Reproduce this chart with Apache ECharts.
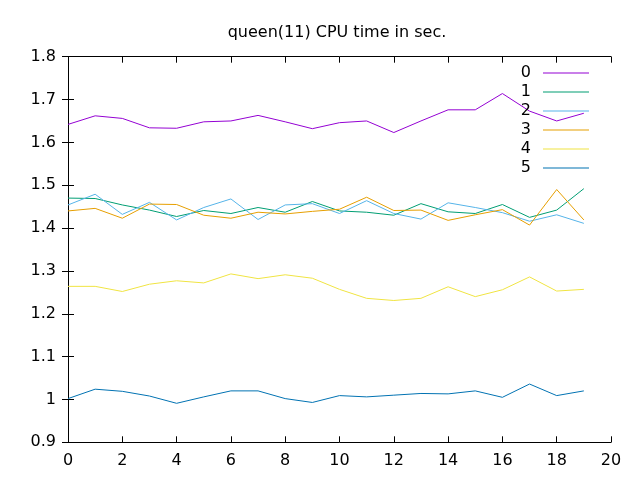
<!DOCTYPE html>
<html>
<head>
<meta charset="utf-8">
<script src="https://cdn.jsdelivr.net/npm/echarts@6/dist/echarts.min.js"></script>
<style>html,body{margin:0;padding:0;background:#fff}#c{width:640px;height:480px}</style>
</head>
<body>
<div id="c"></div>
<script>
const xValues = [0,1,2,3,4,5,6,7,8,9,10,11,12,13,14,15,16,17,18,19];
const seriesNames = ['0','1','2','3','4','5'];
const s0 = [1.642,1.662,1.656,1.634,1.633,1.648,1.650,1.663,1.648,1.632,1.646,1.650,1.623,1.650,1.676,1.676,1.714,1.673,1.650,1.668];
const s1 = [1.470,1.469,1.454,1.442,1.427,1.441,1.434,1.448,1.437,1.462,1.440,1.437,1.430,1.457,1.438,1.434,1.455,1.425,1.442,1.492];
const s2 = [1.454,1.479,1.432,1.460,1.419,1.448,1.468,1.420,1.454,1.457,1.434,1.464,1.434,1.421,1.459,1.448,1.436,1.416,1.431,1.411];
const s3 = [1.440,1.446,1.423,1.456,1.455,1.430,1.423,1.437,1.433,1.439,1.444,1.472,1.441,1.442,1.418,1.431,1.443,1.407,1.490,1.419];
const s4 = [1.264,1.264,1.252,1.269,1.277,1.272,1.293,1.282,1.291,1.283,1.257,1.236,1.231,1.236,1.263,1.240,1.256,1.286,1.253,1.257];
const s5 = [1.002,1.024,1.019,1.008,0.991,1.006,1.020,1.020,1.002,0.993,1.009,1.006,1.010,1.014,1.013,1.020,1.005,1.036,1.009,1.020];
const allValues = [s0,s1,s2,s3,s4,s5];
const colors = ['#9400d3','#009e73','#56b4e9','#e69f00','#f0e442','#0072b2'];
const yTicks = ['0.9','1','1.1','1.2','1.3','1.4','1.5','1.6','1.7','1.8'];

const font = 'DejaVu Sans';
const chart = echarts.init(document.getElementById('c'), null, {renderer:'canvas'});
const axisLine = {show:true, lineStyle:{color:'#000', width:1}};
const series = allValues.map((vals,i)=>({
  name: seriesNames[i],
  type: 'line',
  data: vals.map((v,j)=>[xValues[j], v]),
  showSymbol: false,
  symbol: 'none',
  lineStyle: {color: colors[i], width: 1},
  itemStyle: {color: colors[i]},
  animation: false
}));
chart.setOption({
  animation: false,
  title: {
    text: 'queen(11) CPU time in sec.',
    left: 332, top: 19, textAlign: 'center',
    textStyle: {fontFamily: font, fontSize: 16, fontWeight: 'normal', color: '#000', lineHeight: 18}
  },
  legend: {
    data: seriesNames,
    right: 51, top: 63.5,
    orient: 'vertical',
    align: 'right',
    icon: 'rect',
    itemWidth: 46, itemHeight: 1,
    itemGap: 0,
    textStyle: {fontFamily: font, fontSize: 16, color: '#000', lineHeight: 16, padding: [3, 7, 0, 0]},
    padding: 0
  },
  grid: {left: 68, right: 29, top: 56.7, bottom: 37.7, containLabel: false},
  xAxis: [{
    type: 'value', min: 0, max: 20, interval: 2,
    axisLine: axisLine,
    axisTick: {show: true, inside: true, length: 6, lineStyle: {color: '#000'}},
    axisLabel: {fontFamily: font, fontSize: 16, color: '#000', margin: 11},
    splitLine: {show: false}
  },{
    type: 'value', min: 0, max: 20, interval: 2, position: 'top',
    axisLine: axisLine,
    axisTick: {show: true, inside: true, length: 6, lineStyle: {color: '#000'}},
    axisLabel: {show: false},
    splitLine: {show: false}
  }],
  yAxis: [{
    type: 'value', min: 0.9, max: 1.8, interval: 0.1,
    axisLine: axisLine,
    axisTick: {show: true, inside: true, length: 6, lineStyle: {color: '#000'}},
    axisLabel: {fontFamily: font, fontSize: 16, color: '#000', margin: 12,
      formatter: (v)=> { const idx = Math.round((v-0.9)*10); return yTicks[idx] !== undefined ? yTicks[idx] : ''; }},
    splitLine: {show: false}
  },{
    type: 'value', min: 0.9, max: 1.8, interval: 0.1, position: 'right',
    axisLine: axisLine,
    axisTick: {show: true, inside: true, length: 6, lineStyle: {color: '#000'}},
    axisLabel: {show: false},
    splitLine: {show: false}
  }],
  series: series
});
</script>
</body>
</html>
